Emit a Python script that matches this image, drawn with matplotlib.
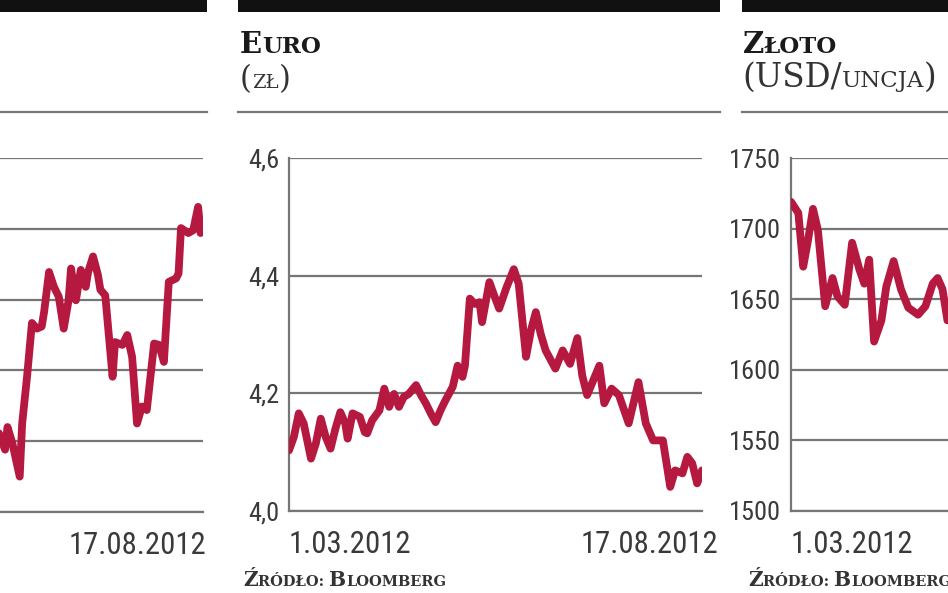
import numpy as np
import matplotlib
matplotlib.use("Agg")
import matplotlib.pyplot as plt
from matplotlib import font_manager
from matplotlib.font_manager import FontProperties
from matplotlib.patches import Rectangle
from matplotlib.lines import Line2D
import matplotlib.transforms as mtransforms

# ---------------- data ----------------
start_date = np.datetime64('2012-03-01')
end_date = np.datetime64('2012-08-17')
x_tick_labels = ['1.03.2012', '17.08.2012']

# left panel (only its right part is visible in the crop)
idx_days = [85, 88, 89, 91, 94, 95, 97, 99, 101, 103, 104, 106, 108, 110, 112,
            114, 115, 117, 119, 121, 122, 124, 126, 127, 129, 132, 133, 136,
            138, 140, 142, 144, 146, 149, 151, 153, 155, 158, 159, 160, 163,
            165, 167, 168]
idx_values = [2116, 2088, 2120, 2097, 2050, 2125, 2191, 2267, 2259, 2262, 2283,
              2339, 2318, 2304, 2259, 2299, 2344, 2299, 2342, 2318, 2339, 2361,
              2335, 2314, 2306, 2191, 2240, 2236, 2250, 2219, 2125, 2149, 2144,
              2238, 2236, 2212, 2325, 2330, 2337, 2401, 2394, 2398, 2431, 2394]
idx_ticks = [2000, 2100, 2200, 2300, 2400, 2500]

# Euro (zł)
eur_days = [0, 2, 4, 6, 9, 11, 13, 15, 17, 19, 21, 23, 24, 26, 29, 31, 32, 34,
            37, 39, 41, 43, 45, 47, 49, 52, 54, 56, 58, 60, 62, 64, 67, 69, 71,
            72, 74, 76, 78, 79, 82, 84, 86, 89, 92, 94, 97, 99, 101, 103, 105,
            109, 112, 115, 118, 120, 122, 127, 129, 132, 135, 139, 143, 146,
            149, 153, 156, 158, 161, 163, 165, 167, 169]
eur_values = [4.103, 4.126, 4.166, 4.149, 4.089, 4.115, 4.157, 4.126, 4.106,
              4.140, 4.168, 4.149, 4.123, 4.166, 4.160, 4.134, 4.132, 4.154,
              4.171, 4.208, 4.177, 4.199, 4.177, 4.194, 4.199, 4.214, 4.197,
              4.183, 4.166, 4.151, 4.171, 4.188, 4.211, 4.247, 4.228, 4.247,
              4.361, 4.352, 4.355, 4.321, 4.389, 4.366, 4.344, 4.380, 4.411,
              4.386, 4.262, 4.307, 4.338, 4.301, 4.273, 4.242, 4.273, 4.250,
              4.294, 4.230, 4.197, 4.247, 4.183, 4.208, 4.197, 4.149, 4.219,
              4.149, 4.120, 4.120, 4.041, 4.069, 4.064, 4.092, 4.081, 4.047,
              4.069]
eur_ticks = [4.0, 4.2, 4.4, 4.6]
eur_tick_labels = ['4,0', '4,2', '4,4', '4,6']

# Złoto (USD/uncja) - only the first part is visible in the crop
gold_days = [0, 3, 5, 7, 9, 11, 14, 17, 19, 22, 25, 28, 30, 32, 34, 37, 39, 42,
             45, 48, 52, 55, 58, 60, 62, 64]
gold_values = [1719, 1711, 1673, 1692, 1714, 1699, 1645, 1665, 1652, 1646,
               1690, 1671, 1661, 1678, 1620, 1635, 1659, 1677, 1657, 1644,
               1639, 1645, 1661, 1665, 1657, 1635]
gold_ticks = [1500, 1550, 1600, 1650, 1700, 1750]
gold_tick_labels = ['1500', '1550', '1600', '1650', '1700', '1750']

# ---------------- style ----------------
W, H = 948, 593
LINE = '#b5193f'
GRID = '#767676'
TXT = '#3a3a3a'
SERIF = 'DejaVu Serif'

# pick the narrowest available sans for tick labels
ttf = font_manager.fontManager.ttflist
avail = {f.name for f in ttf}
NARROW = None
for name in ['Liberation Sans Narrow', 'Roboto Condensed', 'Open Sans Condensed',
             'Noto Sans Condensed']:
    if name in avail:
        NARROW = FontProperties(family=name)
        break
if NARROW is None:
    if any(f.name == 'DejaVu Sans' and f.stretch == 'condensed' for f in ttf):
        NARROW = FontProperties(family='DejaVu Sans', stretch='condensed')
    elif 'Roboto' in avail:
        NARROW = FontProperties(family='Roboto')
    else:
        NARROW = FontProperties(family='DejaVu Sans')

fig = plt.figure(figsize=(W / 100, H / 100), dpi=100)
fig.patch.set_facecolor('white')
renderer = fig.canvas.get_renderer()


def fx(px):
    return px / W


def fy(py):
    return 1 - py / H


def fit_size(sample, target_px, base=20):
    t = fig.text(0, 0, sample, fontproperties=NARROW, fontsize=base)
    w = t.get_window_extent(renderer).width
    t.remove()
    return base * target_px / w


XSIZE = min(fit_size('17.08.2012', 138), 23)
YSIZE = min(fit_size('1750', 52), 20)


def to_dates(days):
    return start_date + np.array(days).astype('timedelta64[D]')


def setup(ax, ticks, labels, xlabels, last_dx):
    ax.set_xlim(start_date, end_date)
    ax.set_ylim(ticks[0], ticks[-1])
    ax.set_yticks(ticks)
    ax.set_yticklabels(labels, fontproperties=NARROW)
    ax.yaxis.grid(True, color=GRID, lw=1.6)
    ax.set_axisbelow(True)
    ax.patch.set_alpha(0)
    for s in ['top', 'right']:
        ax.spines[s].set_visible(False)
    for s in ['left', 'bottom']:
        ax.spines[s].set_color(GRID)
        ax.spines[s].set_linewidth(1.6)
    ax.tick_params(axis='y', length=0, pad=7, labelsize=YSIZE, labelcolor=TXT)
    ax.set_xticks([start_date, end_date])
    ax.set_xticklabels(xlabels, fontproperties=NARROW)
    ax.tick_params(axis='x', length=0, pad=14, labelsize=XSIZE, labelcolor=TXT)
    lbls = ax.get_xticklabels()
    lbls[0].set_ha('left')
    lbls[1].set_ha('right')
    off = mtransforms.ScaledTranslation(last_dx / 100, 0, fig.dpi_scale_trans)
    lbls[1].set_transform(lbls[1].get_transform() + off)


# axes (same plot width in every panel); labels lying outside the crop are left empty
ax_left = fig.add_axes([fx(-210), fy(512), 413 / W, 354 / H])
ax_mid = fig.add_axes([fx(289), fy(511), 413 / W, 353 / H])
ax_right = fig.add_axes([fx(791), fy(511), 413 / W, 353 / H])

panels = [
    (ax_left, idx_days, idx_values, idx_ticks, [''] * len(idx_ticks),
     ['', x_tick_labels[1]], 3),
    (ax_mid, eur_days, eur_values, eur_ticks, eur_tick_labels, x_tick_labels, 16),
    (ax_right, gold_days, gold_values, gold_ticks, gold_tick_labels,
     [x_tick_labels[0], ''], 16),
]
for ax, d, v, t, l, xl, dx in panels:
    setup(ax, t, l, xl, dx)
    ax.plot(to_dates(d), v, color=LINE, lw=5.6, solid_capstyle='round',
            solid_joinstyle='round', zorder=3)

# header bars and separator lines
for x0, x1 in [(0, 207), (238, 720), (742, 948)]:
    fig.add_artist(Rectangle((fx(x0), fy(12)), (x1 - x0) / W, 12 / H,
                             transform=fig.transFigure, color='#111111', lw=0))
    fig.add_artist(Line2D([fx(x0), fx(x1)], [fy(112), fy(112)],
                          transform=fig.transFigure, color=GRID, lw=1.6))


def rich(x_px, y_px, parts, color):
    x = x_px
    for s, size, weight in parts:
        t = fig.text(fx(x), fy(y_px), s, fontsize=size, fontweight=weight,
                     family=SERIF, color=color, ha='left', va='baseline')
        x = t.get_window_extent(renderer).x1


# titles
rich(240, 53, [('E', 21, 'bold'), ('URO', 16.5, 'bold')], '#1a1a1a')
rich(240, 88, [('(', 22, 'normal'), ('ZŁ', 14, 'normal'), (')', 22, 'normal')], '#333333')
rich(743, 53, [('Z', 21, 'bold'), ('ŁOTO', 16.5, 'bold')], '#1a1a1a')
rich(742, 87, [('(USD/', 23.5, 'normal'), ('UNCJA', 16.5, 'normal'), (')', 23.5, 'normal')], '#333333')

# source notes
for x0 in (243, 748):
    rich(x0, 586, [('Ź', 14.5, 'bold'), ('RÓDŁO: ', 10.5, 'bold'),
                   ('B', 14.5, 'bold'), ('LOOMBERG', 10.5, 'bold')], '#333333')

fig.savefig('out.png', dpi=100, facecolor='white')
